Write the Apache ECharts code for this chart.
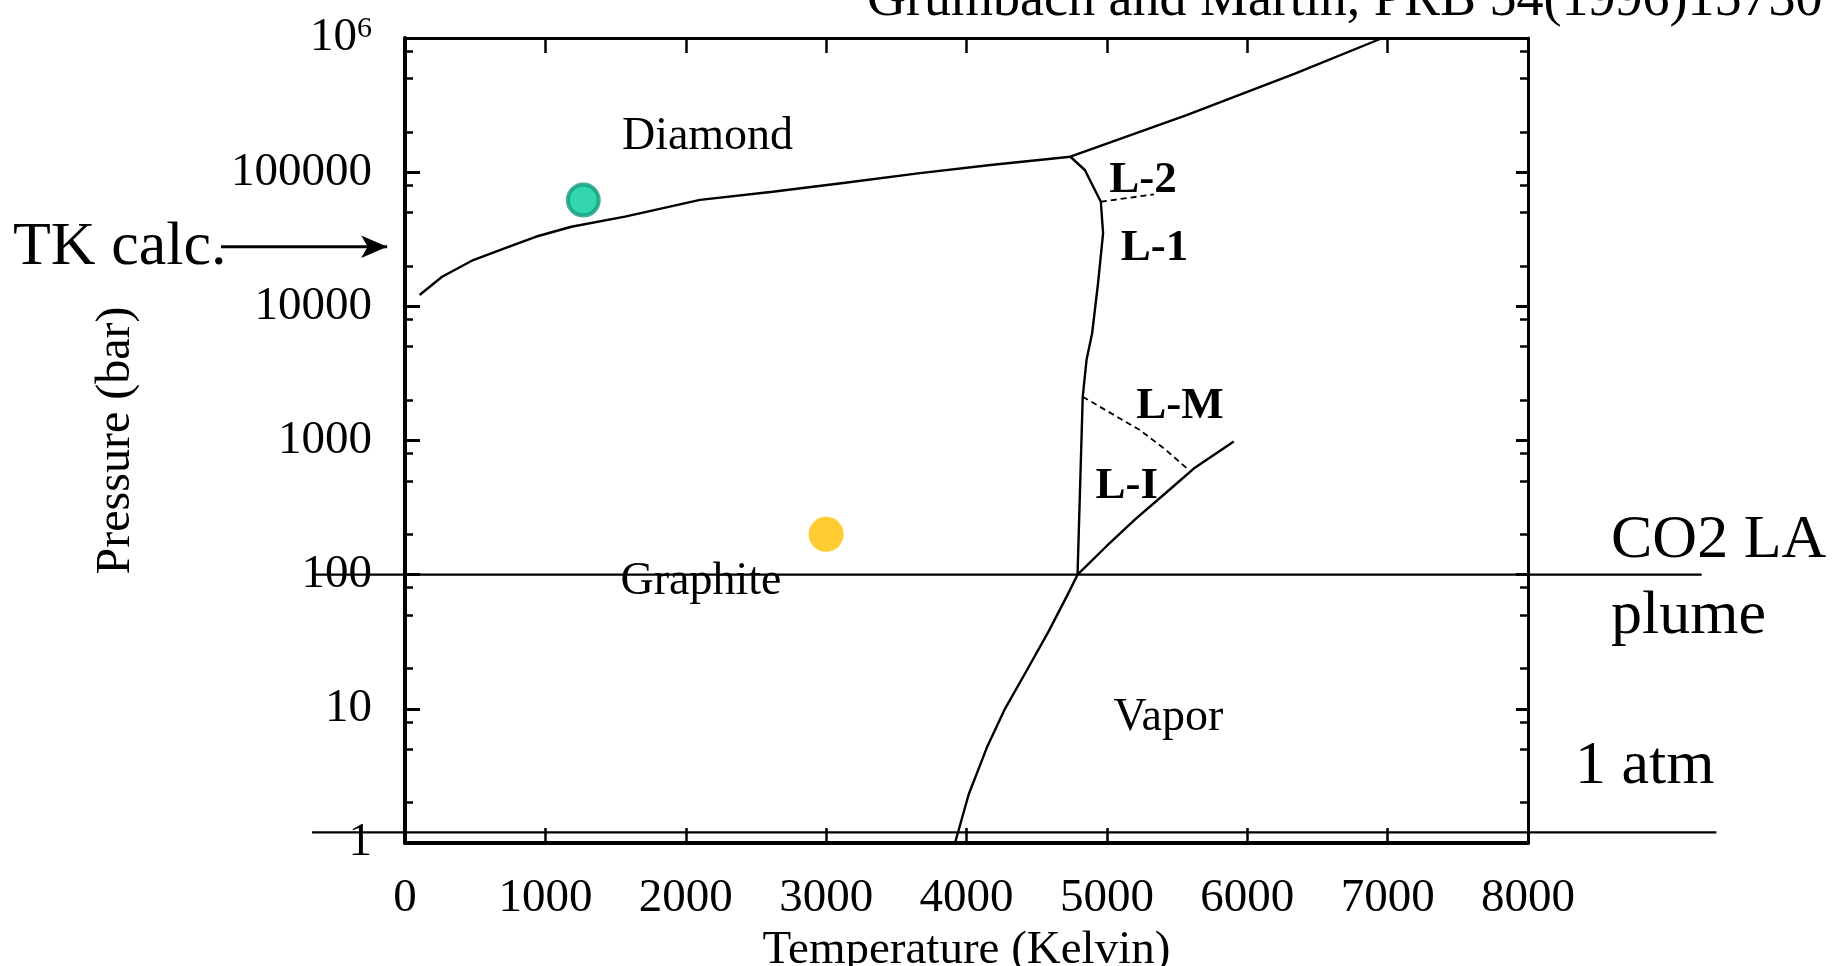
<!DOCTYPE html>
<html>
<head>
<meta charset="utf-8">
<title>Carbon phase diagram</title>
<script src="https://cdn.jsdelivr.net/npm/echarts@6/dist/echarts.min.js"></script>
<style>
html,
body {
    margin: 0;
    padding: 0;
    background: #fff;
}
#chart {
    width: 1839px;
    height: 966px;
}
</style>
</head>
<body>
<div id="chart"></div>
<script>
// phase boundaries, temperature in K and pressure in bar
var diamondGraphiteT = [104, 264, 486, 709, 931, 1185, 1567, 2102, 2619, 3136, 3654, 4171, 4740];
var diamondGraphiteP = [12140, 16630, 22130, 27050, 33000, 39200, 46600, 62100, 71500, 83400, 98000, 113000, 130300];

var diamondLiquidT = [4740, 5568, 6344, 6964];
var diamondLiquidP = [130300, 266700, 545500, 1000000];

// L-2 / diamond, then graphite / L-1, down to the graphite-liquid-vapor point
var solidLiquidT = [4740, 4843, 4957, 4973, 4937, 4895, 4855, 4828, 4791];
var solidLiquidP = [130300, 103800, 60200, 35000, 14850, 6300, 3980, 2117, 100];

var graphiteVaporT = [4791, 4714, 4585, 4430, 4274, 4145, 4016, 3918];
var graphiteVaporP = [100, 68.9, 37.8, 19.4, 10, 5.14, 2.31, 1];

var liquidVaporT = [4791, 4999, 5205, 5413, 5619, 5904];
var liquidVaporP = [100, 163.6, 260.5, 401, 618, 984];

var l2l1T = [4957, 5335];
var l2l1P = [60200, 68400];

var lmliT = [4828, 5232, 5413, 5578];
var lmliP = [2117, 1202, 863, 610];

// reference lines and the arrow, they run past the plot frame
var co2LineT = [-662, 9237];
var co2LineP = [100, 100];
var atmLineT = [-662, 9342];
var atmLineP = [1.2, 1.2];
var arrowT = [-1311, -127];
var arrowP = [27800, 27800];

// marked conditions
var tkCalc = [1270, 62000];
var co2Plume = [3000, 200];

// region names
var regionNames = ["Diamond", "Graphite", "Vapor", "L-2", "L-1", "L-M", "L-I"];
var regionT = [2155, 2109, 5438, 5257, 5340, 5521, 5141];
var regionP = [200000, 96, 9.36, 95300, 29500, 1945, 497];

var xTicks = [0, 8000, 1000];
var pRange = [1, 1000000];
var minorMult = [2, 5, 8];

var serif = '"Liberation Serif", "Times New Roman", serif';

// plot frame inside the 1839 x 966 page
var frame = { left: 405, right: 311, top: 38, bottom: 123, width: 1839, height: 966 };
var decades = Math.log10(pRange[1] / pRange[0]);
var pxPerK = (frame.width - frame.left - frame.right) / (xTicks[1] - xTicks[0]);
var pxPerDecade = (frame.height - frame.top - frame.bottom) / decades;
// a second, invisible grid over the whole page with the same scale,
// so the lines that leave the frame are not clipped
var outerX = [xTicks[0] - frame.left / pxPerK, xTicks[1] + frame.right / pxPerK];
var outerP = [
    pRange[0] * Math.pow(10, -frame.bottom / pxPerDecade),
    pRange[1] * Math.pow(10, frame.top / pxPerDecade),
];

function pairs(xs, ys) {
    return xs.map(function (x, i) {
        return [x, ys[i]];
    });
}

function curve(data, dashed) {
    return {
        type: "line",
        data: data,
        symbol: "none",
        silent: true,
        lineStyle: {
            color: "#000",
            width: dashed ? 1.8 : 2.4,
            type: dashed ? [6, 4] : "solid",
        },
        z: 3,
    };
}

function outerLine(data) {
    return {
        type: "line",
        xAxisIndex: 2,
        yAxisIndex: 4,
        data: data,
        symbol: "none",
        silent: true,
        lineStyle: { color: "#000", width: 2.4 },
        z: 4,
    };
}

function sideText(text, x, y, size) {
    return {
        type: "text",
        x: x,
        y: y,
        style: {
            text: text,
            fontFamily: serif,
            fontSize: size,
            fill: "#000",
            align: "left",
            verticalAlign: "middle",
        },
    };
}

var minorTicks = [];
for (var d = 0; d < decades; d++) {
    minorMult.forEach(function (m) {
        minorTicks.push(d + Math.log10(m));
    });
}

var tickStyle = { color: "#000", width: 2.5 };

var mychart = echarts.init(document.getElementById("chart"));

var option = {
    animation: false,
    backgroundColor: "#fff",
    grid: [
        {
            left: frame.left,
            right: frame.right,
            top: frame.top,
            bottom: frame.bottom,
            outerBoundsMode: "none",
        },
        {
            left: 0,
            right: 0,
            top: 0,
            bottom: 0,
            outerBoundsMode: "none",
        },
    ],
    xAxis: [
        {
            type: "value",
            position: "bottom",
            min: xTicks[0],
            max: xTicks[1],
            interval: xTicks[2],
            name: "Temperature (Kelvin)",
            nameLocation: "middle",
            nameGap: 74,
            nameTextStyle: { fontFamily: serif, fontSize: 47, color: "#000" },
            axisLine: { onZero: false, lineStyle: { color: "#000", width: 4 } },
            axisTick: { inside: true, length: 15, lineStyle: tickStyle },
            axisLabel: {
                margin: 32,
                fontFamily: serif,
                fontSize: 47,
                color: "#000",
                formatter: function (v) {
                    return String(v);
                },
            },
            splitLine: { show: false },
        },
        {
            type: "value",
            position: "top",
            min: xTicks[0],
            max: xTicks[1],
            interval: xTicks[2],
            axisLine: { onZero: false, lineStyle: { color: "#000", width: 3 } },
            axisTick: { inside: true, length: 15, lineStyle: tickStyle },
            axisLabel: { show: false },
            splitLine: { show: false },
        },
        {
            type: "value",
            gridIndex: 1,
            show: false,
            min: outerX[0],
            max: outerX[1],
        },
    ],
    yAxis: [
        {
            type: "log",
            logBase: 10,
            position: "left",
            min: pRange[0],
            max: pRange[1],
            name: "Pressure (bar)",
            nameLocation: "middle",
            nameGap: 265,
            nameTextStyle: { fontFamily: serif, fontSize: 48, color: "#000" },
            axisLine: { onZero: false, lineStyle: { color: "#000", width: 4 } },
            axisTick: { inside: true, length: 15, lineStyle: { color: "#000", width: 3 } },
            axisLabel: {
                margin: 33,
                fontFamily: serif,
                fontSize: 47,
                color: "#000",
                formatter: function (v) {
                    v = Math.round(v);
                    return v >= 1000000 ? "{a|10}{b|6}" : String(v);
                },
                rich: {
                    a: { fontFamily: serif, fontSize: 47, color: "#000" },
                    b: { fontFamily: serif, fontSize: 30, color: "#000", verticalAlign: "top" },
                },
            },
            splitLine: { show: false },
        },
        {
            type: "log",
            logBase: 10,
            position: "right",
            min: pRange[0],
            max: pRange[1],
            axisLine: { onZero: false, lineStyle: { color: "#000", width: 3 } },
            axisTick: { inside: true, length: 12, lineStyle: { color: "#000", width: 3 } },
            axisLabel: { show: false },
            splitLine: { show: false },
        },
        {
            type: "value",
            position: "left",
            min: 0,
            max: decades,
            axisLine: { show: false, onZero: false },
            axisTick: { inside: true, length: 8, customValues: minorTicks, lineStyle: tickStyle },
            axisLabel: { show: false },
            splitLine: { show: false },
        },
        {
            type: "value",
            position: "right",
            min: 0,
            max: decades,
            axisLine: { show: false, onZero: false },
            axisTick: { inside: true, length: 8, customValues: minorTicks, lineStyle: tickStyle },
            axisLabel: { show: false },
            splitLine: { show: false },
        },
        {
            type: "log",
            logBase: 10,
            gridIndex: 1,
            show: false,
            min: outerP[0],
            max: outerP[1],
        },
    ],
    series: [
        curve(pairs(diamondGraphiteT, diamondGraphiteP)),
        curve(pairs(diamondLiquidT, diamondLiquidP)),
        curve(pairs(solidLiquidT, solidLiquidP)),
        curve(pairs(graphiteVaporT, graphiteVaporP)),
        curve(pairs(liquidVaporT, liquidVaporP)),
        curve(pairs(l2l1T, l2l1P), true),
        curve(pairs(lmliT, lmliP), true),
        outerLine(pairs(co2LineT, co2LineP)),
        outerLine(pairs(atmLineT, atmLineP)),
        {
            type: "line",
            xAxisIndex: 2,
            yAxisIndex: 4,
            silent: true,
            showSymbol: true,
            symbol: "none",
            lineStyle: { color: "#000", width: 3 },
            itemStyle: { color: "#000" },
            data: [
                { value: [arrowT[0], arrowP[0]], symbol: "none" },
                {
                    value: [arrowT[1], arrowP[1]],
                    symbol: "arrow",
                    symbolSize: [17, 26],
                    symbolRotate: -90,
                },
            ],
            z: 4,
        },
        {
            type: "scatter",
            silent: true,
            symbolSize: 31,
            itemStyle: { color: "#00CC99", borderColor: "#129C79", borderWidth: 4 },
            data: [tkCalc],
            z: 5,
        },
        {
            type: "scatter",
            silent: true,
            symbolSize: 35,
            itemStyle: { color: "#FFC000" },
            data: [co2Plume],
            z: 5,
        },
        {
            type: "scatter",
            silent: true,
            symbolSize: 0,
            itemStyle: { color: "#000", opacity: 1 },
            label: {
                show: true,
                position: "inside",
                offset: [0, 5],
                formatter: "{b}",
                fontFamily: serif,
                fontSize: 46,
                color: "#000",
                opacity: 1,
                textBorderWidth: 0,
            },
            data: regionNames.map(function (n, i) {
                var item = { name: n, value: [regionT[i], regionP[i]] };
                if (n.indexOf("L-") === 0) {
                    item.label = { fontWeight: "bold", fontSize: 45 };
                }
                return item;
            }),
            z: 6,
        },
    ],
    graphic: [
        sideText("Grumbach and Martin, PRB 54(1996)15730", 867, 1, 54),
        sideText("TK calc.", 13, 248, 62),
        sideText("CO2 LA", 1611, 541, 62),
        sideText("plume", 1611, 617, 62),
        sideText("1 atm", 1575, 767, 62),
    ],
};

mychart.setOption(option);

window.addEventListener("resize", function () {
    mychart.resize();
});
</script>
</body>
</html>
